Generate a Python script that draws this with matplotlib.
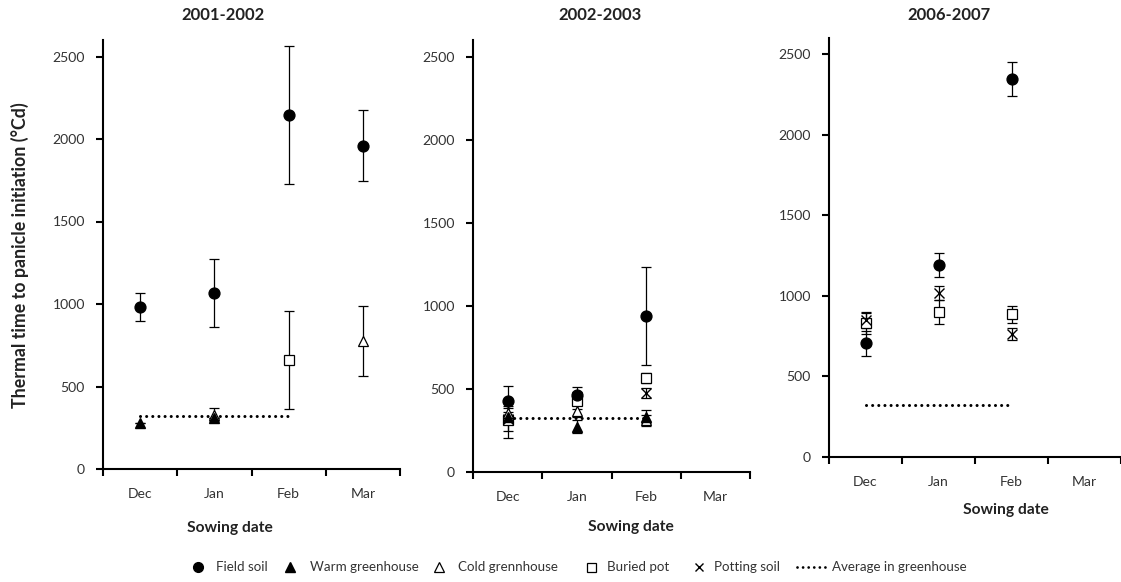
import numpy as np
import matplotlib
matplotlib.use("Agg")
import matplotlib.pyplot as plt
from matplotlib.lines import Line2D

plt.rcParams['font.family'] = ['Lato', 'DejaVu Sans']

nan = np.nan
categories = ['Dec', 'Jan', 'Feb', 'Mar']
titles = ['2001-2002', '2002-2003', '2006-2007']

# Panel 1: 2001-2002
p1_field = [980, 1065, 2145, 1960]
p1_field_err = [85, 205, 418, 217]
p1_warm = [277, 307, nan, nan]
p1_warm_err = [0, 0, nan, nan]
p1_cold = [nan, 330, nan, 775]
p1_cold_err = [nan, 40, nan, 210]
p1_buried = [nan, nan, 660, nan]
p1_buried_err = [nan, nan, 295, nan]
p1_potting = [nan, nan, nan, nan]
p1_potting_err = [nan, nan, nan, nan]

# Panel 2: 2002-2003
p2_field = [430, 464, 940, nan]
p2_field_err = [90, 50, 295, nan]
p2_warm = [333, 273, 333, nan]
p2_warm_err = [30, 40, 40, nan]
p2_cold = [353, 369, 310, nan]
p2_cold_err = [35, 40, 35, nan]
p2_buried = [313, 430, 564, nan]
p2_buried_err = [110, 50, 30, nan]
p2_potting = [320, nan, 474, nan]
p2_potting_err = [75, nan, 30, nan]

# Panel 3: 2006-2007
p3_field = [705, 1191, 2345, nan]
p3_field_err = [78, 72, 103, nan]
p3_warm = [nan, nan, nan, nan]
p3_warm_err = [nan, nan, nan, nan]
p3_cold = [nan, nan, nan, nan]
p3_cold_err = [nan, nan, nan, nan]
p3_buried = [829, 901, 885, nan]
p3_buried_err = [65, 76, 55, nan]
p3_potting = [850, 1015, 763, nan]
p3_potting_err = [50, 43, 38, nan]

avg_greenhouse = 323
avg_span = ['Dec', 'Feb']

series_names = ['Field soil', 'Warm greenhouse', 'Cold grennhouse', 'Buried pot', 'Potting soil']
avg_label = 'Average in greenhouse'
styles = {
    'Field soil': dict(marker='o', mfc='black', mec='black', ms=7.8),
    'Warm greenhouse': dict(marker='^', mfc='black', mec='black', ms=7.8),
    'Cold grennhouse': dict(marker='^', mfc='white', mec='black', ms=7.8, mew=0.9),
    'Buried pot': dict(marker='s', mfc='white', mec='black', ms=7.2, mew=0.9),
    'Potting soil': dict(marker='x', mfc='black', mec='black', ms=6.8, mew=1.0),
}
draw_order = ['Buried pot', 'Potting soil', 'Cold grennhouse', 'Warm greenhouse', 'Field soil']

panels = [
    {'Field soil': (p1_field, p1_field_err), 'Warm greenhouse': (p1_warm, p1_warm_err),
     'Cold grennhouse': (p1_cold, p1_cold_err), 'Buried pot': (p1_buried, p1_buried_err),
     'Potting soil': (p1_potting, p1_potting_err)},
    {'Field soil': (p2_field, p2_field_err), 'Warm greenhouse': (p2_warm, p2_warm_err),
     'Cold grennhouse': (p2_cold, p2_cold_err), 'Buried pot': (p2_buried, p2_buried_err),
     'Potting soil': (p2_potting, p2_potting_err)},
    {'Field soil': (p3_field, p3_field_err), 'Warm greenhouse': (p3_warm, p3_warm_err),
     'Cold grennhouse': (p3_cold, p3_cold_err), 'Buried pot': (p3_buried, p3_buried_err),
     'Potting soil': (p3_potting, p3_potting_err)},
]

W, H = 1121, 582
fig = plt.figure(figsize=(W / 100, H / 100), dpi=100)
renderer = fig.canvas.get_renderer()


def fit_size(text, target_px, weight='normal'):
    t = fig.text(0, 0, text, fontsize=10, fontweight=weight)
    w = t.get_window_extent(renderer=renderer).width
    t.remove()
    return 10 * target_px / w


tick_fs = (fit_size('2500', 32) + fit_size('Dec', 25)) / 2
title_fs = fit_size('2001-2002', 84, 'bold')
xlab_fs = fit_size('Sowing date', 86, 'bold')
ylab_fs = fit_size('Thermal time to panicle initiation (°Cd)', 305, 'bold')
leg_fs = (fit_size('Warm greenhouse', 96) + fit_size('Field soil', 50)
          + fit_size('Average in greenhouse', 154)) / 3

# axes boxes in pixels: left, right, top, bottom
boxes = [(103, 400, 40, 469), (473, 750, 40, 472), (829, 1121, 38, 457)]
title_pos = [(223, 15), (600, 15), (949, 15)]
xlabel_pos = [(230, 528), (631, 527), (1006, 510)]

x = np.arange(1, len(categories) + 1)
idx = {c: i + 1 for i, c in enumerate(categories)}
dotted = (0, (0.01, 2.0))

for k, (panel, box) in enumerate(zip(panels, boxes)):
    l, r, t, b = box
    ax = fig.add_axes([l / W, 1 - b / H, (r - l) / W, (b - t) / H])
    for name in draw_order:
        vals, errs = panel[name]
        vals = np.array(vals, dtype=float)
        errs = np.array(errs, dtype=float)
        if np.all(np.isnan(vals)):
            continue
        st = styles[name]
        ax.errorbar(x, vals, yerr=errs, fmt='none', ecolor='black', elinewidth=0.9,
                    capsize=3.5, capthick=0.9, zorder=2)
        ax.plot(x, vals, linestyle='none', zorder=3, **st)
    ax.plot([idx[avg_span[0]], idx[avg_span[1]]], [avg_greenhouse, avg_greenhouse],
            color='black', linewidth=2.2, linestyle=dotted,
            dash_capstyle='round', zorder=4)

    ax.set_xlim(0.5, 4.5)
    ax.set_ylim(0, 2600)
    ax.set_yticks([0, 500, 1000, 1500, 2000, 2500])
    ax.set_xticks(np.arange(0.5, 4.6, 1.0))
    ax.set_xticklabels([])
    ax.set_xticks(x, minor=True)
    ax.set_xticklabels(categories, minor=True)
    ax.tick_params(axis='x', which='minor', length=0, pad=14, labelsize=tick_fs, labelcolor='#333333')
    ax.tick_params(axis='x', which='major', direction='out', length=5, width=1.5)
    ax.tick_params(axis='y', direction='out', length=5, width=1.5, labelsize=tick_fs,
                   labelcolor='#333333', pad=8)
    for s in ['top', 'right']:
        ax.spines[s].set_visible(False)
    for s in ['left', 'bottom']:
        ax.spines[s].set_linewidth(1.5)
        ax.spines[s].set_color('black')

    tx, ty = title_pos[k]
    fig.text(tx / W, 1 - ty / H, titles[k], ha='center', va='center',
             fontsize=title_fs, fontweight='bold', color='#222222')
    lx, ly = xlabel_pos[k]
    fig.text(lx / W, 1 - ly / H, 'Sowing date', ha='center', va='center',
             fontsize=xlab_fs, fontweight='bold', color='#222222')

fig.text(20 / W, 1 - 255 / H, 'Thermal time to panicle initiation (°Cd)', rotation=90,
         ha='center', va='center', fontsize=ylab_fs, fontweight='bold', color='#222222')

# legend, laid out by hand in pixel positions
leg_y = 1 - 567 / H
leg_marker_x = [198, 290, 439, 591, 699]
leg_text_x = [216, 310, 458, 607, 714, 832]
leg_line_x = (797, 828)
for name, mx, tx in zip(series_names, leg_marker_x, leg_text_x):
    st = dict(styles[name])
    st['ms'] = st['ms'] * 0.9
    fig.add_artist(Line2D([mx / W], [leg_y], linestyle='none', transform=fig.transFigure, **st))
    fig.text(tx / W, leg_y, name, ha='left', va='center', fontsize=leg_fs, color='#333333')
fig.add_artist(Line2D([leg_line_x[0] / W, leg_line_x[1] / W], [leg_y, leg_y],
                      transform=fig.transFigure, color='black', linewidth=2.0,
                      linestyle=dotted, dash_capstyle='round'))
fig.text(leg_text_x[-1] / W, leg_y, avg_label, ha='left', va='center',
         fontsize=leg_fs, color='#333333')

fig.savefig('out.png', dpi=100)
